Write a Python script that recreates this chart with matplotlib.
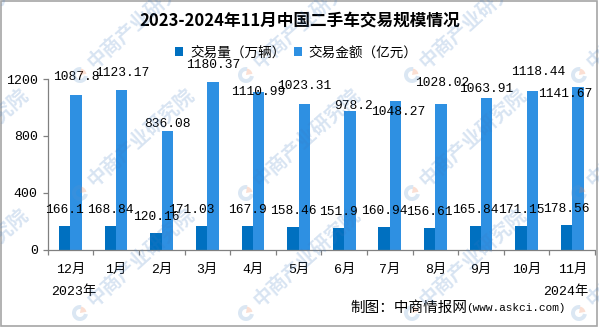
import matplotlib
matplotlib.use("Agg")
import matplotlib.pyplot as plt
from matplotlib.patches import Rectangle, Wedge
import numpy as np

# data
months = ['12月', '1月', '2月', '3月', '4月', '5月', '6月', '7月', '8月', '9月', '10月', '11月']
volume = [166.1, 168.84, 120.16, 171.03, 167.9, 158.46, 151.9, 160.94, 156.61, 165.84, 171.15, 178.56]
amount = [1087.8, 1123.17, 836.08, 1180.37, 1110.99, 1023.31, 978.2, 1048.27, 1028.02, 1063.91, 1118.44, 1141.67]
amount_lbl = ['1087.8', '1123.17', '836.08', '1180.37', '1110.99', '1023.31', '978.2',
              '1048.27', '1028.02', '1063.91', '1118.44', '1141.67']
volume_lbl = ['166.1', '168.84', '120.16', '171.03', '167.9', '158.46', '151.9',
              '160.94', '156.61', '165.84', '171.15', '178.56']

# label nudges (pixels), the source chart has hand-placed labels
amt_dx = [0, 0, 0, 0, 0, 0, 4, 3, 1, 0, 6, -13]
amt_dy = [18, 17, 7, 17, 0, 18, 5, -11, 21, 9, 19, -7]
vol_dx = [0, 0, 0, -10, 0, 0, 0, 0, 0, 0, 0, 0]

num_font = ['Liberation Mono', 'Noto Sans CJK SC']
cjk_font = ['Noto Sans CJK SC', 'DejaVu Sans']
dark = '#0070C0'
light = '#2E90E2'
grey = '#808080'

W, H = 599, 327
fig = plt.figure(figsize=(W / 100, H / 100), dpi=100)
fig.patches.append(Rectangle((0.002, 0.003), 0.995, 0.994, transform=fig.transFigure,
                             fill=False, edgecolor='#A6A6A6', linewidth=1.2))
ax = fig.add_axes([0.0796, 0.2355, 0.9137, 0.5229])

x = np.arange(len(months)) + 0.5
w = 0.25
ax.bar(x - w / 2, volume, w, color=dark, label='交易量（万辆）')
ax.bar(x + w / 2, amount, w, color=light, label='交易金额（亿元）')

for i in range(len(months)):
    ax.annotate(volume_lbl[i], (x[i] - w / 2, volume[i]), xytext=(vol_dx[i], 16),
                textcoords='offset pixels', ha='center', va='center',
                fontsize=9.3, family=num_font, color='black')
    ax.annotate(amount_lbl[i], (x[i] + w / 2, amount[i]), xytext=(amt_dx[i], amt_dy[i]),
                textcoords='offset pixels', ha='center', va='center',
                fontsize=9.3, family=num_font, color='black')

ax.set_xlim(0, 12)
ax.set_ylim(0, 1200)
ax.set_yticks([0, 400, 800, 1200])
ax.set_xticks(x)
ax.set_xticklabels(months, family=num_font, fontsize=9.5)
ax.set_xticks(np.arange(0, 13), minor=True)
ax.tick_params(axis='x', which='major', length=0, pad=10)
ax.tick_params(axis='x', which='minor', length=3.6, width=0.9, color=grey)
ax.tick_params(axis='y', length=3.6, width=0.9, color=grey, pad=3.5)
for t in ax.get_yticklabels():
    t.set_family(num_font)
    t.set_fontsize(9.5)

for s in ['top', 'right']:
    ax.spines[s].set_visible(False)
for s in ['left', 'bottom']:
    ax.spines[s].set_color(grey)
    ax.spines[s].set_linewidth(0.9)

fig.text(0.501, 0.936, '2023-2024年11月中国二手车交易规模情况', ha='center', va='center',
         fontsize=12, fontweight='bold', family=cjk_font)
fig.legend(loc='center', bbox_to_anchor=(0.495, 0.84), ncol=2, frameon=False,
           prop={'family': cjk_font, 'size': 9.8}, handlelength=0.6, handleheight=0.6,
           handletextpad=0.5, columnspacing=0.6)

fig.text(74 / W, 1 - 292 / H, '2023年', ha='center', va='center', fontsize=9.5, family=num_font)
fig.text(566 / W, 1 - 292 / H, '2024年', ha='center', va='center', fontsize=9.5, family=num_font)
fig.text(566 / W, 1 - 308 / H, '(www.askci.com)', ha='right', va='center',
         fontsize=8, family=num_font)
fig.text(467 / W, 1 - 308 / H, '制图：中商情报网', ha='right', va='center',
         fontsize=10.5, family=cjk_font)

# faint tiled watermark
wm_x = [-86, 80, 246, 412, 579]
wm_y = [75, 193, 313]
for cx in wm_x:
    for cy in wm_y:
        c = (cx / 100, (H - cy) / 100)
        fig.patches.append(Wedge(c, 0.08, 80, 350, width=0.04, transform=fig.dpi_scale_trans,
                                 color='#5B93CC', alpha=0.22, linewidth=0))
        fig.patches.append(Wedge(c, 0.065, 10, 80, transform=fig.dpi_scale_trans,
                                 color='#F08050', alpha=0.25, linewidth=0))
        fig.text((cx + 10) / W, 1 - (cy - 10) / H, '中商产业研究院', rotation=42,
                 rotation_mode='anchor', ha='left', va='center', fontsize=14,
                 fontweight='bold', family=cjk_font, color='#3C78C0', alpha=0.2)

fig.savefig('out.png', dpi=100)
